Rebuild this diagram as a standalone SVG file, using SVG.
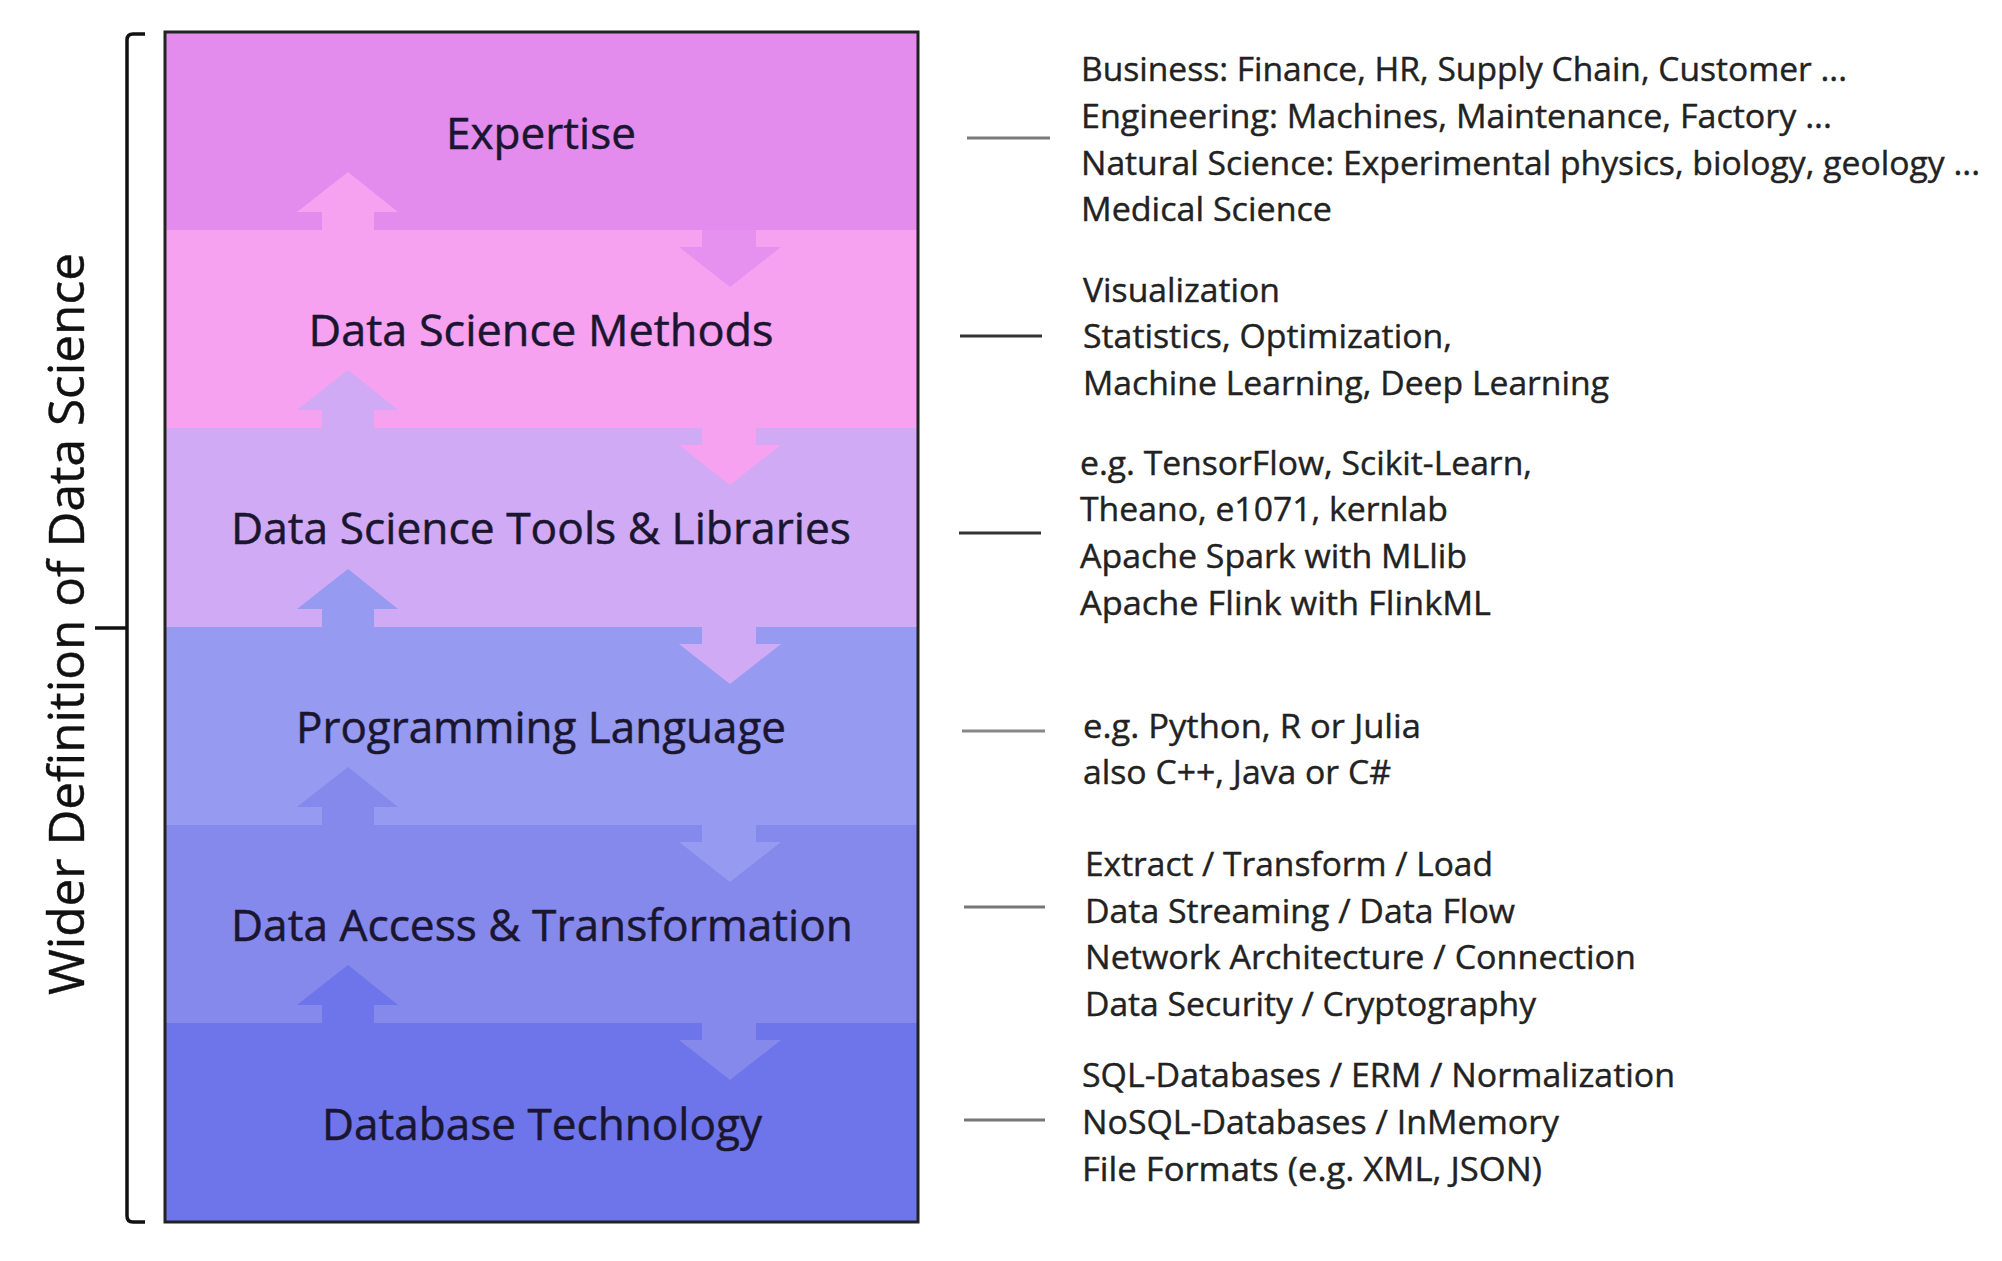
<svg xmlns="http://www.w3.org/2000/svg" width="2002" height="1261" viewBox="0 0 2002 1261">
  <defs>
    <style>
      .label { font-family: "Open Sans", Lato, "DejaVu Sans", sans-serif; font-size: 44px; fill: #1a1630; stroke: #1a1630; stroke-width: 0.5; text-anchor: middle; }
      .note { font-family: "Open Sans", Lato, "DejaVu Sans", sans-serif; font-size: 33px; fill: #222; stroke: #222; stroke-width: 0.4; }
      .side { font-family: "Open Sans", Lato, "DejaVu Sans", sans-serif; font-size: 50px; fill: #111; stroke: #111; stroke-width: 0.4; text-anchor: middle; }
      .dash { stroke-width: 3; fill: none; }
    </style>
    <!-- arrow shapes relative to a band boundary at y=0 -->
    <path id="upArrow" d="M348,-58 L398,-18 L374,-18 L374,0 L322,0 L322,-18 L297,-18 Z"/>
    <path id="downArrow" d="M702,0 L756,0 L756,17 L781,17 L730,57 L679,17 L702,17 Z"/>
  </defs>
  <rect width="2002" height="1261" fill="#ffffff"/>

  <!-- bracket and its caption -->
  <g id="bracket">
    <path d="M145,34 L133,34 Q127,34 127,40 L127,1216 Q127,1222 133,1222 L145,1222" stroke="#111" stroke-width="3.5" fill="none"/>
    <line x1="95" y1="628" x2="127" y2="628" stroke="#111" stroke-width="3.5"/>
    <text class="side" transform="translate(84,624) rotate(-90)" textLength="742" lengthAdjust="spacingAndGlyphs">Wider Definition of Data Science</text>
  </g>

  <!-- layered stack -->
  <g id="stack">
    <g id="band-expertise"><rect x="165" y="32" width="753" height="198" fill="#e48cee"/></g>
    <g id="band-methods"><rect x="165" y="230" width="753" height="198" fill="#f7a1f1"/></g>
    <g id="band-tools"><rect x="165" y="428" width="753" height="199" fill="#d0aaf5"/></g>
    <g id="band-language"><rect x="165" y="627" width="753" height="198" fill="#969af0"/></g>
    <g id="band-access"><rect x="165" y="825" width="753" height="198" fill="#8589ec"/></g>
    <g id="band-database"><rect x="165" y="1023" width="753" height="199" fill="#6e74ea"/></g>
  </g>

  <!-- flow arrows between layers -->
  <g id="connectors">
    <use href="#upArrow" transform="translate(0,230)" fill="#f7a1f1"/>
    <use href="#downArrow" transform="translate(0,230)" fill="#e691ef"/>
    <use href="#upArrow" transform="translate(0,428)" fill="#d0aaf5"/>
    <use href="#downArrow" transform="translate(0,428)" fill="#f7a1f1"/>
    <use href="#upArrow" transform="translate(0,627)" fill="#969af0"/>
    <use href="#downArrow" transform="translate(0,627)" fill="#d0aaf5"/>
    <use href="#upArrow" transform="translate(0,825)" fill="#8589ec"/>
    <use href="#downArrow" transform="translate(0,825)" fill="#969af0"/>
    <use href="#upArrow" transform="translate(0,1023)" fill="#6e74ea"/>
    <use href="#downArrow" transform="translate(0,1023)" fill="#8589ec"/>

    <line class="dash" x1="967" y1="138" x2="1050" y2="138" stroke="#7a7a7a"/>
    <line class="dash" x1="960" y1="336" x2="1042" y2="336" stroke="#333"/>
    <line class="dash" x1="959" y1="533" x2="1041" y2="533" stroke="#333"/>
    <line class="dash" x1="962" y1="731" x2="1045" y2="731" stroke="#888"/>
    <line class="dash" x1="964" y1="907" x2="1045" y2="907" stroke="#777"/>
    <line class="dash" x1="964" y1="1120" x2="1045" y2="1120" stroke="#777"/>
  </g>

  <rect x="165" y="32" width="753" height="1190" fill="none" stroke="#222" stroke-width="3"/>

  <!-- layer names -->
  <g id="labels">
    <text class="label" x="541" y="149" textLength="190" lengthAdjust="spacingAndGlyphs">Expertise</text>
    <text class="label" x="541" y="346" textLength="465" lengthAdjust="spacingAndGlyphs">Data Science Methods</text>
    <text class="label" x="541" y="544" textLength="620" lengthAdjust="spacingAndGlyphs">Data Science Tools &amp; Libraries</text>
    <text class="label" x="541" y="743" textLength="490" lengthAdjust="spacingAndGlyphs">Programming Language</text>
    <text class="label" x="542" y="941" textLength="622" lengthAdjust="spacingAndGlyphs">Data Access &amp; Transformation</text>
    <text class="label" x="542" y="1140" textLength="440" lengthAdjust="spacingAndGlyphs">Database Technology</text>
  </g>

  <!-- examples per layer -->
  <g id="notes-expertise">
    <text class="note" x="1081" y="81" textLength="766" lengthAdjust="spacingAndGlyphs">Business: Finance, HR, Supply Chain, Customer ...</text>
    <text class="note" x="1081" y="128" textLength="751" lengthAdjust="spacingAndGlyphs">Engineering: Machines, Maintenance, Factory ...</text>
    <text class="note" x="1081" y="175" textLength="899" lengthAdjust="spacingAndGlyphs">Natural Science: Experimental physics, biology, geology ...</text>
    <text class="note" x="1081" y="221" textLength="251" lengthAdjust="spacingAndGlyphs">Medical Science</text>
  </g>
  <g id="notes-methods">
    <text class="note" x="1083" y="302" textLength="197" lengthAdjust="spacingAndGlyphs">Visualization</text>
    <text class="note" x="1083" y="348" textLength="369" lengthAdjust="spacingAndGlyphs">Statistics, Optimization,</text>
    <text class="note" x="1083" y="395" textLength="526" lengthAdjust="spacingAndGlyphs">Machine Learning, Deep Learning</text>
  </g>
  <g id="notes-tools">
    <text class="note" x="1080" y="475" textLength="452" lengthAdjust="spacingAndGlyphs">e.g. TensorFlow, Scikit-Learn,</text>
    <text class="note" x="1080" y="521" textLength="368" lengthAdjust="spacingAndGlyphs">Theano, e1071, kernlab</text>
    <text class="note" x="1080" y="568" textLength="387" lengthAdjust="spacingAndGlyphs">Apache Spark with MLlib</text>
    <text class="note" x="1080" y="615" textLength="411" lengthAdjust="spacingAndGlyphs">Apache Flink with FlinkML</text>
  </g>
  <g id="notes-language">
    <text class="note" x="1083" y="738" textLength="338" lengthAdjust="spacingAndGlyphs">e.g. Python, R or Julia</text>
    <text class="note" x="1083" y="784" textLength="308" lengthAdjust="spacingAndGlyphs">also C++, Java or C#</text>
  </g>
  <g id="notes-access">
    <text class="note" x="1085" y="876" textLength="408" lengthAdjust="spacingAndGlyphs">Extract / Transform / Load</text>
    <text class="note" x="1085" y="923" textLength="430" lengthAdjust="spacingAndGlyphs">Data Streaming / Data Flow</text>
    <text class="note" x="1085" y="969" textLength="551" lengthAdjust="spacingAndGlyphs">Network Architecture / Connection</text>
    <text class="note" x="1085" y="1016" textLength="451" lengthAdjust="spacingAndGlyphs">Data Security / Cryptography</text>
  </g>
  <g id="notes-database">
    <text class="note" x="1082" y="1087" textLength="593" lengthAdjust="spacingAndGlyphs">SQL-Databases / ERM / Normalization</text>
    <text class="note" x="1082" y="1134" textLength="477" lengthAdjust="spacingAndGlyphs">NoSQL-Databases / InMemory</text>
    <text class="note" x="1082" y="1181" textLength="460" lengthAdjust="spacingAndGlyphs">File Formats (e.g. XML, JSON)</text>
  </g>
</svg>
